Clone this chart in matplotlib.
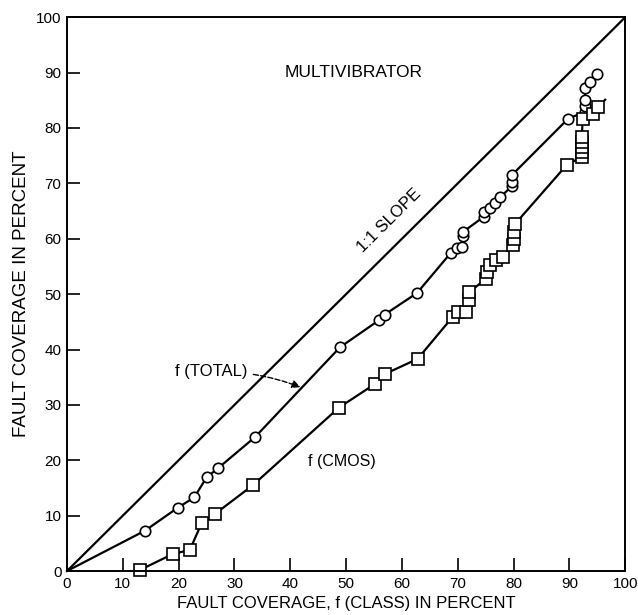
import matplotlib
matplotlib.use("Agg")
import matplotlib.pyplot as plt

plt.rcParams["font.family"] = ["Liberation Sans", "DejaVu Sans"]

# f(TOTAL): first point is the origin (line only, no marker)
total_x = [0, 14.0, 19.8, 22.8, 25.0, 27.1, 33.7, 48.9, 55.9, 56.9, 62.7,
           68.8, 69.8, 70.7, 70.9, 70.9, 74.7, 74.7, 75.7, 76.7, 77.6,
           79.7, 79.7, 79.7, 89.8, 92.8, 92.8, 92.8, 92.8, 93.7, 95.0]
total_y = [0, 7.3, 11.4, 13.3, 16.9, 18.6, 24.2, 40.4, 45.3, 46.3, 50.2,
           57.5, 58.4, 58.5, 60.5, 61.2, 64.0, 64.9, 65.6, 66.5, 67.5,
           69.5, 70.3, 71.5, 81.7, 82.9, 83.9, 85.1, 87.3, 88.3, 89.8]

# f(CMOS): last point is where the line runs out (no marker)
cmos_x = [13.1, 19.0, 22.0, 24.1, 26.5, 33.3, 48.7, 55.2, 57.0, 62.8,
          69.1, 70.0, 71.5, 72.1, 72.1, 75.1, 75.2, 75.8, 76.9, 78.1,
          79.9, 80.0, 80.0, 80.2, 89.5, 92.2, 92.2, 92.2, 92.2, 92.2,
          92.4, 94.2, 95.2, 96.4]
cmos_y = [0.2, 3.1, 3.8, 8.6, 10.3, 15.5, 29.5, 33.8, 35.6, 38.3,
          45.9, 46.7, 46.8, 48.9, 50.4, 52.8, 54.0, 55.2, 56.1, 56.7,
          58.8, 60.0, 61.2, 62.6, 73.3, 74.8, 75.7, 76.6, 77.5, 78.4,
          81.7, 82.6, 83.8, 85.1]

ticks = list(range(0, 101, 10))

fig = plt.figure(figsize=(6.38, 6.15), dpi=100)
ax = fig.add_axes([0.105, 0.0715, 0.875, 0.9005])

ax.plot([0, 100], [0, 100], color="black", lw=1.6)
ax.plot(total_x, total_y, color="black", lw=1.6, marker="o", ms=7.5,
        mfc="white", mec="black", mew=1.2, markevery=slice(1, None), clip_on=False)
ax.plot(cmos_x, cmos_y, color="black", lw=1.6, marker="s", ms=8.5,
        mfc="white", mec="black", mew=1.2, markevery=slice(0, -1), clip_on=False)

ax.set_xlim(0, 100)
ax.set_ylim(0, 100)
ax.set_xticks(ticks)
ax.set_yticks(ticks)
ax.tick_params(direction="in", length=9.5, width=1.2, labelsize=11, pad=4,
               top=False, right=False)
for s in ax.spines.values():
    s.set_linewidth(1.4)

ax.text(51.3, 90.1, "MULTIVIBRATOR", ha="center", va="center", fontsize=12.5)
ax.text(57.8, 63.2, "1:1 SLOPE", ha="center", va="center", fontsize=12,
        rotation=44.8, rotation_mode="anchor")
ax.annotate("f (TOTAL)", xy=(41.8, 33.2), xytext=(32.4, 36.0),
            ha="right", va="center", fontsize=12,
            arrowprops=dict(arrowstyle="-|>", linestyle="--", color="black",
                            lw=1.0, shrinkA=2, shrinkB=0,
                            connectionstyle="arc3,rad=-0.1"))
ax.text(49.3, 19.7, "f (CMOS)", ha="center", va="center", fontsize=11.5)

ax.set_xlabel("FAULT COVERAGE, f (CLASS) IN PERCENT", fontsize=12, labelpad=4)
ax.set_ylabel("FAULT COVERAGE IN PERCENT", fontsize=13.5, labelpad=4)

fig.savefig("out.png", dpi=100)
